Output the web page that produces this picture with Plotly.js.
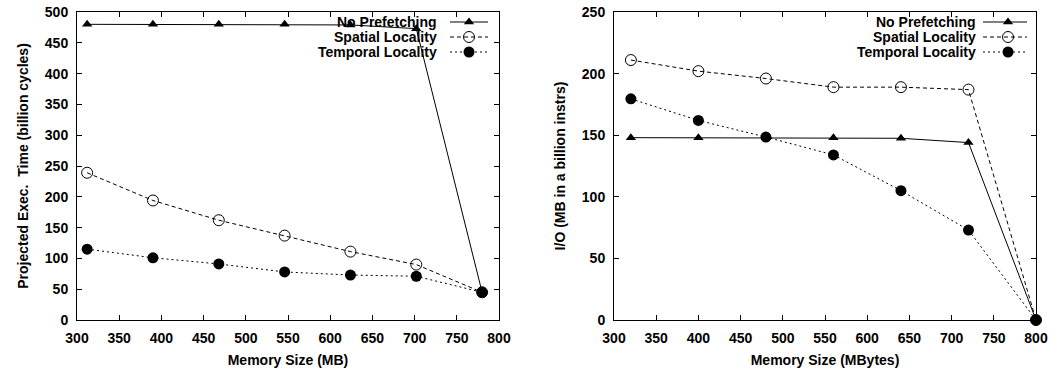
<!DOCTYPE html>
<html>
<head>
<meta charset="utf-8">
<script src="https://cdn.plot.ly/plotly-3.0.1.min.js"></script>
<style>
  html, body { margin: 0; padding: 0; background: #fff; }
  #chart { width: 1062px; height: 371px; }
</style>
</head>
<body>
<div id="chart"></div>
<script>
// Left panel: projected execution time vs memory size
const memExec = [312, 390, 468, 546, 624, 702, 780];
const execNoPrefetch = [480, 480, 480, 480, 479, 473, 45];
const execSpatial = [239, 194, 162, 137, 111, 90, 45];
const execTemporal = [115, 101, 91, 78, 73, 71, 45];

// Right panel: I/O per billion instructions vs memory size
const memIO = [320, 400, 480, 560, 640, 720, 800];
const ioNoPrefetch = [148, 148, 148, 148, 147.5, 144, 0];
const ioSpatial = [211, 202, 196, 189, 189, 187, 0];
const ioTemporal = [179.5, 162, 148.5, 134, 105, 73, 0];

const seriesNames = ['No Prefetching', 'Spatial Locality', 'Temporal Locality'];

const FONT = 'Liberation Sans, Arial, Helvetica, sans-serif';
const styles = [
  { line: { color: '#000', width: 1, dash: 'solid' },   marker: { symbol: 'triangle-up', size: 9, color: '#000' } },
  { line: { color: '#000', width: 1, dash: '4px,3px' }, marker: { symbol: 'circle-open', size: 11, color: '#000', line: { width: 1, color: '#000' } } },
  { line: { color: '#000', width: 1, dash: '2px,3px' }, marker: { symbol: 'circle', size: 11, color: '#000' } }
];

function series(x, y, i, xa, ya) {
  return {
    type: 'scatter', mode: 'lines+markers', x: x, y: y,
    xaxis: xa, yaxis: ya, name: seriesNames[i], showlegend: false,
    line: styles[i].line, marker: styles[i].marker, cliponaxis: false
  };
}

const traces = [
  series(memExec, execNoPrefetch, 0, 'x', 'y'),
  series(memExec, execSpatial, 1, 'x', 'y'),
  series(memExec, execTemporal, 2, 'x', 'y'),
  series(memIO, ioNoPrefetch, 0, 'x2', 'y2'),
  series(memIO, ioSpatial, 1, 'x2', 'y2'),
  series(memIO, ioTemporal, 2, 'x2', 'y2')
];

// Key entries (text right, sample line with marker), drawn on a hidden
// overlay axis whose units follow the plotting area in pixels.
const keys = [
  { textX: 439, lineX0: 450, lineX1: 488, markX: 469 },
  { textX: 978, lineX0: 983, lineX1: 1027, markX: 1008 }
];
const keyRows = [22, 37, 52];
const annotations = [];
keys.forEach(k => {
  keyRows.forEach((ry, i) => {
    traces.push({
      type: 'scatter', mode: 'lines', x: [k.lineX0, k.lineX1], y: [ry, ry],
      xaxis: 'x3', yaxis: 'y3', showlegend: false, hoverinfo: 'skip',
      line: styles[i].line, cliponaxis: false
    });
    traces.push({
      type: 'scatter', mode: 'markers', x: [k.markX], y: [ry],
      xaxis: 'x3', yaxis: 'y3', showlegend: false, hoverinfo: 'skip',
      marker: styles[i].marker, cliponaxis: false
    });
    annotations.push({
      xref: 'x3', yref: 'y3', x: k.textX, y: ry, text: '<b>' + seriesNames[i] + '</b>',
      showarrow: false, xanchor: 'right', yanchor: 'middle',
      font: { family: FONT, size: 14, color: '#000' }
    });
  });
});

function axisBase(extra) {
  return Object.assign({
    showline: true, linecolor: '#000', linewidth: 1, mirror: 'allticks',
    ticks: 'inside', ticklen: 5, tickcolor: '#000', tickwidth: 1,
    showgrid: false, zeroline: false, fixedrange: true,
    tickfont: { family: FONT, size: 14, color: '#000', weight: 'bold' },
    ticklabelstandoff: 5
  }, extra);
}

const titleFont = { family: FONT, size: 14, color: '#000', weight: 'bold' };

const layout = {
  width: 1062, height: 371,
  margin: { l: 77, r: 26, t: 12, b: 51 },
  paper_bgcolor: '#fff', plot_bgcolor: 'rgba(0,0,0,0)',
  showlegend: false,
  xaxis: axisBase({ domain: [0, 0.44004], range: [300, 800], dtick: 50, tick0: 300, anchor: 'y',
    title: { text: 'Memory Size (MB)', font: titleFont, standoff: 10 } }),
  yaxis: axisBase({ domain: [0, 1], range: [0, 500], dtick: 50, anchor: 'x',
    title: { text: 'Projected Exec.&nbsp; Time (billion cycles)', font: titleFont, standoff: 12 } }),
  xaxis2: axisBase({ domain: [0.55996, 1], range: [300, 800], dtick: 50, tick0: 300, anchor: 'y2',
    title: { text: 'Memory Size (MBytes)', font: titleFont, standoff: 10 } }),
  yaxis2: axisBase({ domain: [0, 1], range: [0, 250], dtick: 50, anchor: 'x2',
    title: { text: 'I/O (MB in a billion instrs)', font: titleFont, standoff: 12 } }),
  xaxis3: { domain: [0, 1], range: [77, 1036], visible: false, anchor: 'y3', fixedrange: true },
  yaxis3: { domain: [0, 1], range: [320, 12], visible: false, anchor: 'x3', fixedrange: true },
  annotations: annotations
};

Plotly.newPlot('chart', traces, layout, { staticPlot: true, displayModeBar: false });
</script>
</body>
</html>
